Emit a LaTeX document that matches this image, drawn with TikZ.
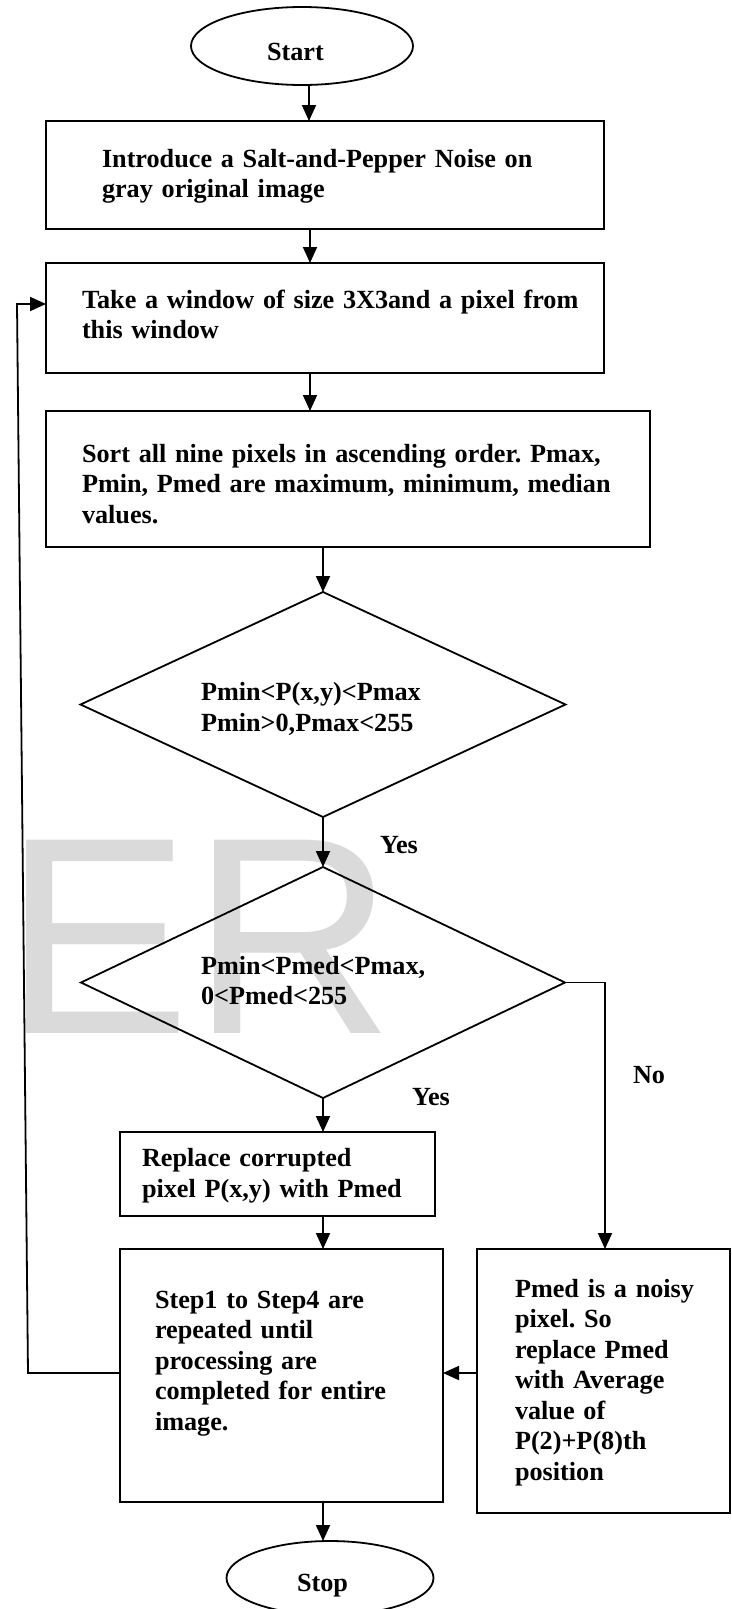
\documentclass[tikz,border=0pt]{standalone}
\usepackage{fontspec}
\setmainfont{Liberation Serif}
\newfontfamily\wmfont{Liberation Sans}
\usetikzlibrary{arrows.meta,shapes.geometric}
\definecolor{wm}{RGB}{218,218,218}
\frenchspacing
\begin{document}
\begin{tikzpicture}[x=1pt,y=-1pt,line width=1.8pt,
  box/.style={draw,rectangle,inner sep=0pt,outer sep=0pt},
  term/.style={draw,ellipse,inner sep=0pt,outer sep=0pt},
  dec/.style={draw,diamond,inner sep=0pt,outer sep=0pt},
  txt/.style={anchor=base west,inner sep=0pt,outer sep=0pt,align=left,text width=#1,
    font=\bfseries\fontsize{26.2}{30.5}\selectfont},
  txt/.default=80pt,
  lead/.style={font=\bfseries\fontsize{26.2}{#1}\selectfont},
  arr/.style={-{Triangle[length=16pt,width=14pt]}}]
\useasboundingbox (0,0) rectangle (731,1609);
% watermark
\node[anchor=base west,inner sep=0pt,text=wm,font=\wmfont\fontsize{281}{281}\selectfont] (wmark) at (3,1033) {ER};
% shapes
\node[term,minimum width=222pt,minimum height=78pt] (start) at (302,46) {};
\node[box,minimum width=558pt,minimum height=108pt] (b1) at (325,175) {};
\node[box,minimum width=558pt,minimum height=110pt] (b2) at (325,318) {};
\node[box,minimum width=604pt,minimum height=136pt] (b3) at (348,479) {};
\node[dec,minimum width=485pt,minimum height=225pt] (d1) at (323,704.5) {};
\node[dec,minimum width=484pt,minimum height=231pt] (d2) at (323,982.5) {};
\node[box,minimum width=315pt,minimum height=84pt] (b4) at (277.5,1174) {};
\node[box,minimum width=323pt,minimum height=253pt] (b5) at (281.5,1375.5) {};
\node[box,minimum width=253pt,minimum height=264pt] (b6) at (603.5,1381) {};
\node[term,minimum width=207pt,minimum height=74pt] (stop) at (330,1578) {};
% texts
\node[txt=80pt] (tstart) at (267,60) {Start};
\node[txt=460pt] (t1) at (102,167) {Introduce a Salt-and-Pepper Noise on\\gray original image};
\node[txt=515pt] (t2) at (82,308) {Take a window of size 3X3and a pixel from\\this window};
\node[txt=555pt] (t3) at (82,462) {Sort all nine pixels in ascending order. Pmax,\\Pmin, Pmed are maximum, minimum, median\\values.};
\node[txt=255pt,lead=31] (td1) at (201,700) {Pmin<P(x,y)<Pmax\\Pmin>0,Pmax<255};
\node[txt=255pt,lead=30] (td2) at (201,974) {Pmin<Pmed<Pmax,\\0<Pmed<255};
\node[txt=280pt,lead=31] (t4) at (142,1166) {Replace corrupted\\pixel P(x,y) with Pmed};
\node[txt=265pt] (t5) at (155,1308) {Step1 to Step4 are\\repeated until\\processing are\\completed for entire\\image.};
\node[txt=205pt] (t6) at (515,1297) {Pmed is a noisy\\pixel. So\\replace Pmed\\with Average\\value of\\P(2)+P(8)th\\position};
\node[txt=60pt] (yes1) at (380,853) {Yes};
\node[txt=60pt] (no) at (633,1083) {No};
\node[txt=60pt] (yes2) at (412,1105) {Yes};
\node[txt=70pt] (tstop) at (297,1591) {Stop};
% helper coordinates
\coordinate (cx) at (323,0);
\coordinate (fy) at (0,1373);
\coordinate (nc) at (605,982.5);
\coordinate (fb1) at (28,1373);
\coordinate (fb2) at (17,304);
% connectors
\draw[arr] ([xshift=7pt]start.south) -- ([xshift=7pt]start.south |- b1.north);
\draw[arr] ([xshift=-15pt]b1.south) -- ([xshift=-15pt]b2.north);
\draw[arr] ([xshift=-15pt]b2.south) -- ([xshift=-15pt]b2.south |- b3.north);
\draw[arr] (b3.south -| d1.north) -- (d1.north);
\draw[arr] (d1.south) -- (d2.north);
\draw[arr] (d2.east) -- (nc) -- (nc |- b6.north);
\draw[arr] (d2.south) -- (d2.south |- b4.north);
\draw[arr] (b4.south -| cx) -- (b5.north -| cx);
\draw[arr] (fy -| b6.west) -- (fy -| b5.east);
\draw[arr] (fy -| b5.west) -- (fb1) -- (fb2) -- (fb2 -| b2.west);
\draw[arr] (b5.south -| cx) -- (stop.north -| cx);
\end{tikzpicture}
\end{document}
